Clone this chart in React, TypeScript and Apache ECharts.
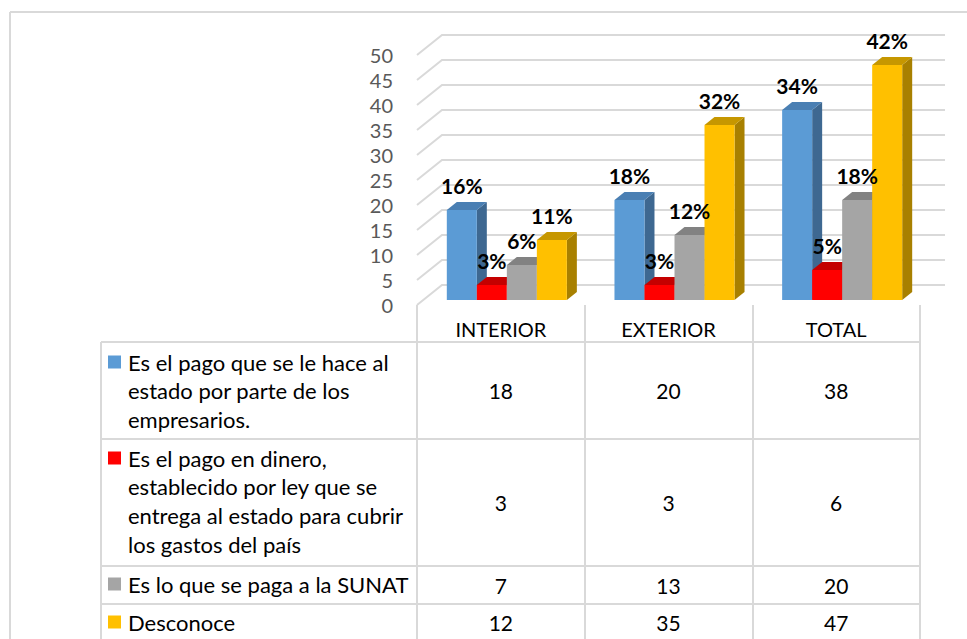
import React, { useEffect, useRef } from "react";
import * as echarts from "echarts";

const categories = ["INTERIOR", "EXTERIOR", "TOTAL"];
const seriesNames = [
  "Es el pago que se le hace al\nestado por parte de los\nempresarios.",
  "Es el pago en dinero,\nestablecido por ley que se\nentrega al estado para cubrir\nlos gastos del país",
  "Es lo que se paga a la SUNAT",
  "Desconoce",
];
const pagoEstado = [18, 20, 38];
const pagoDinero = [3, 3, 6];
const pagoSunat = [7, 13, 20];
const desconoce = [12, 35, 47];
const pctPagoEstado = ["16%", "18%", "34%"];
const pctPagoDinero = ["3%", "3%", "5%"];
const pctPagoSunat = ["6%", "12%", "18%"];
const pctDesconoce = ["11%", "32%", "42%"];
const yTicks = [0, 5, 10, 15, 20, 25, 30, 35, 40, 45, 50];

const allValues = [pagoEstado, pagoDinero, pagoSunat, desconoce];
const allPcts = [pctPagoEstado, pctPagoDinero, pctPagoSunat, pctDesconoce];

// styles
const COLORS = [
  { front: "#5b9bd5", side: "#3e6891", top: "#4a7fb3" },
  { front: "#ff0000", side: "#b00000", top: "#c40000" },
  { front: "#a5a5a5", side: "#737373", top: "#828282" },
  { front: "#ffc000", side: "#a88000", top: "#c69700" },
];
const FONT = 'Lato, "Liberation Sans", sans-serif';
const GRID_COLOR = "#d9d9d9";
const WALL_DX = 25;
const WALL_DY = 20;
const PLANE_DX = 6;
const PLANE_DY = 5;
const DEPTH_DX = 10;
const DEPTH_DY = 8;
const BAR_RATIO = 0.179;
const ROW_CENTERS = [390.5, 502.5, 585, 622];
const LEGEND_FIRST_LINE = [362, 458, 584, 622];
const ROW_LINES = [342, 439, 566, 604];
const LINE_H = 28.7;

export default function App() {
  const ref = useRef<HTMLDivElement>(null);

  useEffect(() => {
    if (!ref.current) return;
    const chart = echarts.init(ref.current, undefined, { renderer: "svg" });

    const barSeries = allValues.map((values, idx) => ({
      type: "custom",
      name: seriesNames[idx],
      z: 2,
      clip: false,
      encode: { x: 0, y: 1 },
      data: values.map((v, i) => [i, v]),
      renderItem: (params: any, api: any) => {
        const cat = api.value(0);
        const v = api.value(1);
        const base = api.coord([cat, 0]);
        const topP = api.coord([cat, v]);
        const band = api.size([1, 0])[0];
        const bw = band * BAR_RATIO;
        const x0 = base[0] + PLANE_DX - 2 * bw + idx * bw;
        const yb = base[1] - PLANE_DY;
        const yt = topP[1] - PLANE_DY;
        const c = COLORS[idx];
        return {
          type: "group",
          children: [
            {
              type: "polygon",
              shape: { points: [[x0 + bw, yt], [x0 + bw + DEPTH_DX, yt - DEPTH_DY], [x0 + bw + DEPTH_DX, yb - DEPTH_DY], [x0 + bw, yb]] },
              style: { fill: c.side },
            },
            {
              type: "polygon",
              shape: { points: [[x0, yt], [x0 + DEPTH_DX, yt - DEPTH_DY], [x0 + bw + DEPTH_DX, yt - DEPTH_DY], [x0 + bw, yt]] },
              style: { fill: c.top },
            },
            {
              type: "rect",
              shape: { x: x0, y: yt, width: bw, height: yb - yt },
              style: { fill: c.front },
            },
          ],
        };
      },
    }));

    const labelData: any[] = [];
    allValues.forEach((values, s) => values.forEach((v, i) => labelData.push([i, v, s])));
    const labelSeries = {
      type: "custom",
      z: 5,
      clip: false,
      encode: { x: 0, y: 1 },
      data: labelData,
      renderItem: (params: any, api: any) => {
        const cat = api.value(0);
        const v = api.value(1);
        const s = api.value(2);
        const p = api.coord([cat, v]);
        const band = api.size([1, 0])[0];
        const bw = band * BAR_RATIO;
        const x0 = p[0] + PLANE_DX - 2 * bw + s * bw;
        return {
          type: "text",
          style: {
            text: allPcts[s][cat],
            x: x0 + bw / 2,
            y: p[1] - PLANE_DY - 25,
            align: "center",
            verticalAlign: "middle",
            font: `bold 21px ${FONT}`,
            fill: "#000",
          },
        };
      },
    };

    const gridSeries = {
      type: "custom",
      z: 1,
      clip: false,
      encode: { x: 0, y: 1 },
      data: yTicks.map((t) => [0, t]),
      renderItem: (params: any, api: any) => {
        const t = api.value(1);
        const band = api.size([1, 0])[0];
        const pl = api.coord([0, t]);
        const pr = api.coord([categories.length - 1, t]);
        const left = pl[0] - band / 2;
        const right = pr[0] + band / 2;
        const y = pl[1];
        return {
          type: "polyline",
          shape: { points: [[left, y], [left + WALL_DX, y - WALL_DY], [right + WALL_DX, y - WALL_DY]] },
          style: { stroke: GRID_COLOR, lineWidth: 2, fill: "none" },
        };
      },
    };

    const tableData: any[] = [];
    allValues.forEach((values, r) => values.forEach((v, i) => tableData.push([i, 0, r, v])));
    const tableSeries = {
      type: "custom",
      z: 5,
      clip: false,
      encode: { x: 0, y: 1 },
      data: tableData,
      renderItem: (params: any, api: any) => {
        const cat = api.value(0);
        const r = api.value(2);
        const v = api.value(3);
        const p = api.coord([cat, 0]);
        return {
          type: "text",
          style: {
            text: String(v),
            x: p[0],
            y: ROW_CENTERS[r],
            align: "center",
            verticalAlign: "middle",
            font: `21px ${FONT}`,
            fill: "#000",
          },
        };
      },
    };

    const line = (x1: number, y1: number, x2: number, y2: number) => ({
      type: "line",
      shape: { x1, y1, x2, y2 },
      style: { stroke: GRID_COLOR, lineWidth: 2 },
      silent: true,
    });

    const graphics: any[] = [
      line(10, 12, 967, 12),
      line(10, 12, 10, 639),
      line(101, 342, 101, 639),
      ...ROW_LINES.map((y) => line(101, y, 920, y)),
    ];
    seriesNames.forEach((name, r) => {
      graphics.push({
        type: "rect",
        shape: { x: 108, y: LEGEND_FIRST_LINE[r] - 6.5, width: 13, height: 13 },
        style: { fill: COLORS[r].front },
      });
      graphics.push({
        type: "text",
        style: {
          text: name,
          x: 128,
          y: LEGEND_FIRST_LINE[r] - LINE_H / 2,
          verticalAlign: "top",
          align: "left",
          font: `22px ${FONT}`,
          lineHeight: LINE_H,
          fill: "#000",
        },
      });
    });

    chart.setOption({
      animation: false,
      grid: { left: 417, right: 47, top: 55, bottom: 334 },
      xAxis: {
        type: "category",
        data: categories,
        axisLine: { show: false },
        axisTick: { show: true, length: 337, lineStyle: { color: GRID_COLOR, width: 2 } },
        axisLabel: { fontSize: 20, fontFamily: FONT, color: "#000", margin: 14 },
        splitLine: { show: false },
      },
      yAxis: {
        type: "value",
        min: 0,
        max: 50,
        interval: 5,
        axisLine: { show: false },
        axisTick: { show: false },
        splitLine: { show: false },
        axisLabel: { fontSize: 20, fontFamily: FONT, color: "#595959", margin: 24 },
      },
      graphic: graphics,
      series: [gridSeries, ...barSeries, labelSeries, tableSeries],
    });

    return () => chart.dispose();
  }, []);

  return (
    <div
      ref={ref}
      style={{ position: "absolute", left: 0, top: 0, width: 967, height: 639, background: "#fff" }}
    />
  );
}
